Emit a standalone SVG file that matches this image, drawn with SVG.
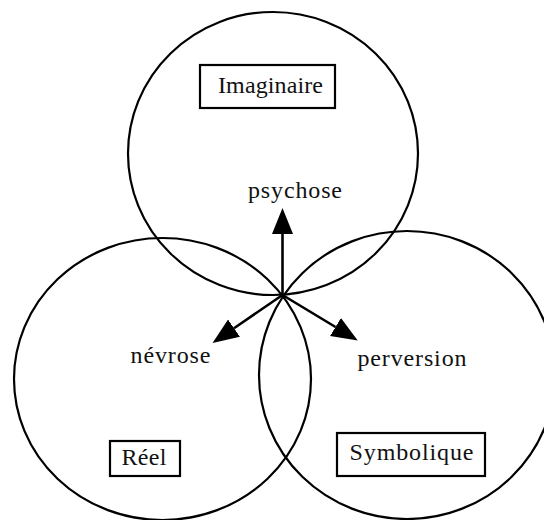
<svg xmlns="http://www.w3.org/2000/svg" width="544" height="520" viewBox="0 0 544 520">
<style>
.ring{fill:none;stroke:#000;stroke-width:2.2}
.box{fill:#fff;stroke:#000;stroke-width:2.2}
.lbl{font-family:"Liberation Serif","Times New Roman",serif;font-size:24px;fill:#111}
.arr{stroke:#000;stroke-width:2.6;fill:none}
</style>
<defs>
<marker id="head" markerUnits="userSpaceOnUse" viewBox="0 -11 27 22" markerWidth="27" markerHeight="22" refX="0" refY="0" orient="auto">
<path d="M0,-10.5 L26,0 L0,10.5 Z" fill="#000"/>
</marker>
</defs>
<g id="imaginaire">
<ellipse class="ring" cx="273" cy="153.5" rx="145" ry="141.5"/>
<rect class="box" x="200" y="65" width="135" height="43"/>
<text class="lbl" x="218" y="93" textLength="105" lengthAdjust="spacing">Imaginaire</text>
</g>
<g id="reel">
<ellipse class="ring" cx="162.5" cy="379" rx="148.5" ry="141"/>
<rect class="box" x="110" y="441" width="70" height="35"/>
<text class="lbl" x="121.5" y="465" textLength="45" lengthAdjust="spacing">Réel</text>
</g>
<g id="symbolique">
<ellipse class="ring" cx="407" cy="375" rx="148" ry="144"/>
<rect class="box" x="337" y="433" width="148" height="43"/>
<text class="lbl" x="349.5" y="459.5" textLength="124" lengthAdjust="spacing">Symbolique</text>
</g>
<g id="psychose">
<text class="lbl" x="248" y="198" textLength="94" lengthAdjust="spacing">psychose</text>
</g>
<g id="nevrose">
<text class="lbl" x="130.5" y="363" textLength="80" lengthAdjust="spacing">névrose</text>
</g>
<g id="perversion">
<text class="lbl" x="357.5" y="365.5" textLength="109" lengthAdjust="spacing">perversion</text>
</g>
<g id="connectors">
<line class="arr" x1="282.5" y1="295" x2="282.5" y2="234" marker-end="url(#head)"/>
<line class="arr" x1="282.5" y1="295" x2="335.5" y2="327" marker-end="url(#head)"/>
<line class="arr" x1="282.5" y1="295" x2="234" y2="328.2" marker-end="url(#head)"/>
</g>
</svg>
